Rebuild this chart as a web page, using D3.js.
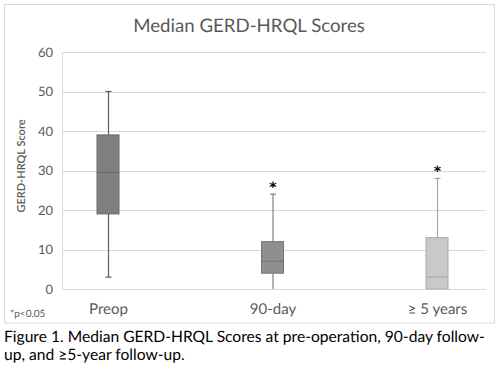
<!DOCTYPE html>
<html><head><meta charset="utf-8">
<script src="https://cdn.jsdelivr.net/npm/d3@7"></script>
<style>html,body{margin:0;padding:0;background:#fff;}svg{display:block;}</style>
</head><body>
<script>
const categories = ["Preop", "90-day", "\u2265 5 years"];
const minVals = [3, 0, 0];
const q1Vals = [19, 4, 0];
const medianVals = [29.5, 7, 3];
const q3Vals = [39, 12, 13];
const maxVals = [50, 24, 28];
const significance = ["", "*", "*"];
const yTicks = [0, 10, 20, 30, 40, 50, 60];
const boxFill = ["#7f7f7f", "#8f8f8f", "#c9c9c9"];
const boxStroke = ["#6a6a6a", "#767676", "#ababab"];
const whiskerColor = ["#5f5f5f", "#808080", "#a8a8a8"];

const W = 497, H = 370;
const font = "Lato, 'Open Sans', sans-serif";
const svg = d3.select("body").append("svg").attr("width", W).attr("height", H)
  .style("text-rendering", "geometricPrecision");

// chart frame
svg.append("rect").attr("x", 4.5).attr("y", 4.5).attr("width", 490).attr("height", 318.5)
  .attr("fill", "#fff").attr("stroke", "#d9d9d9").attr("stroke-width", 1);

const plotL = 62, plotR = 486;
const y = d3.scaleLinear().domain([0, 60]).range([289, 52]);
const x = d3.scalePoint().domain(categories).range([108, 437]);

// gridlines
svg.append("g").selectAll("line").data(yTicks).join("line")
  .attr("x1", plotL).attr("x2", plotR)
  .attr("y1", d => Math.round(y(d)) + 0.5).attr("y2", d => Math.round(y(d)) + 0.5)
  .attr("stroke", "#d9d9d9").attr("stroke-width", 1);
// left plot edge
svg.append("line").attr("x1", plotL + 0.5).attr("x2", plotL + 0.5)
  .attr("y1", y(60)).attr("y2", y(0)).attr("stroke", "#d9d9d9");

// y axis labels
const yAxis = d3.axisLeft(y).tickValues(yTicks).tickSize(0).tickPadding(9);
const gy = svg.append("g").attr("transform", `translate(${plotL},0)`).call(yAxis);
gy.select(".domain").remove();
gy.selectAll("text").attr("font-family", font).attr("font-size", 13).attr("fill", "#595959");

// y axis title
svg.append("text").attr("transform", "translate(25,166) rotate(-90)")
  .attr("text-anchor", "middle").attr("font-family", font).attr("font-size", 11)
  .attr("font-weight", 600).attr("fill", "#595959").text("GERD-HRQL Score");

// category labels
const xAxis = d3.axisBottom(x).tickSize(0).tickPadding(14);
const gx = svg.append("g").attr("transform", `translate(0,${y(0)})`).call(xAxis);
gx.select(".domain").remove();
gx.selectAll("text").attr("font-family", font).attr("font-size", 15).attr("fill", "#595959");

// boxes
const boxW = 22, capW = 6;
const data = categories.map((c, i) => ({c, i, min: minVals[i], q1: q1Vals[i], med: medianVals[i], q3: q3Vals[i], max: maxVals[i], sig: significance[i]}));
const g = svg.append("g").selectAll("g").data(data).join("g");
g.append("line").attr("x1", d => x(d.c) + 0.5).attr("x2", d => x(d.c) + 0.5)
  .attr("y1", d => y(d.max)).attr("y2", d => y(d.min))
  .attr("stroke", d => whiskerColor[d.i]).attr("stroke-width", 1.2);
g.filter(d => d.max > d.q3).append("line")
  .attr("x1", d => x(d.c) - capW / 2 + 0.5).attr("x2", d => x(d.c) + capW / 2 + 0.5)
  .attr("y1", d => y(d.max)).attr("y2", d => y(d.max))
  .attr("stroke", d => whiskerColor[d.i]).attr("stroke-width", 1.2);
g.filter(d => d.min > 0).append("line")
  .attr("x1", d => x(d.c) - capW / 2 + 0.5).attr("x2", d => x(d.c) + capW / 2 + 0.5)
  .attr("y1", d => y(d.min)).attr("y2", d => y(d.min))
  .attr("stroke", d => whiskerColor[d.i]).attr("stroke-width", 1.2);
g.append("rect").attr("x", d => x(d.c) - boxW / 2).attr("width", boxW)
  .attr("y", d => y(d.q3)).attr("height", d => y(d.q1) - y(d.q3))
  .attr("fill", d => boxFill[d.i]).attr("stroke", d => boxStroke[d.i]).attr("stroke-width", 1);
g.append("line").attr("x1", d => x(d.c) - boxW / 2).attr("x2", d => x(d.c) + boxW / 2)
  .attr("y1", d => y(d.med)).attr("y2", d => y(d.med))
  .attr("stroke", d => boxStroke[d.i]).attr("stroke-width", 1.2);
g.append("text").attr("x", d => x(d.c) + 0.5).attr("y", d => y(d.max) - 2)
  .attr("text-anchor", "middle").attr("font-family", "'DejaVu Sans', sans-serif")
  .attr("font-size", 14).attr("font-weight", "bold").attr("fill", "#000")
  .text(d => d.sig);

// p note
svg.append("text").attr("x", 10).attr("y", 317).attr("font-family", font).attr("font-size", 10)
  .attr("fill", "#595959").text("*p<0.05");

// title
function fit(sel, target) {
  const len = sel.node().getComputedTextLength();
  const fs = parseFloat(sel.attr("font-size"));
  sel.attr("font-size", fs * target / len);
}
const title = svg.append("text").attr("x", 249).attr("y", 32).attr("text-anchor", "middle")
  .attr("font-family", font).attr("font-size", 20).attr("fill", "#595959").text("Median GERD-HRQL Scores");
fit(title, 232);

// caption
const cap1 = svg.append("text").attr("x", 4).attr("y", 341.5).attr("font-family", font)
  .attr("font-size", 16).attr("fill", "#000")
  .text("Figure 1. Median GERD-HRQL Scores at pre-operation, 90-day follow-");
fit(cap1, 481);
svg.append("text").attr("x", 4).attr("y", 359.5).attr("font-family", font)
  .attr("font-size", cap1.attr("font-size")).attr("fill", "#000")
  .text("up, and \u22655-year follow-up.");
</script>
</body></html>
